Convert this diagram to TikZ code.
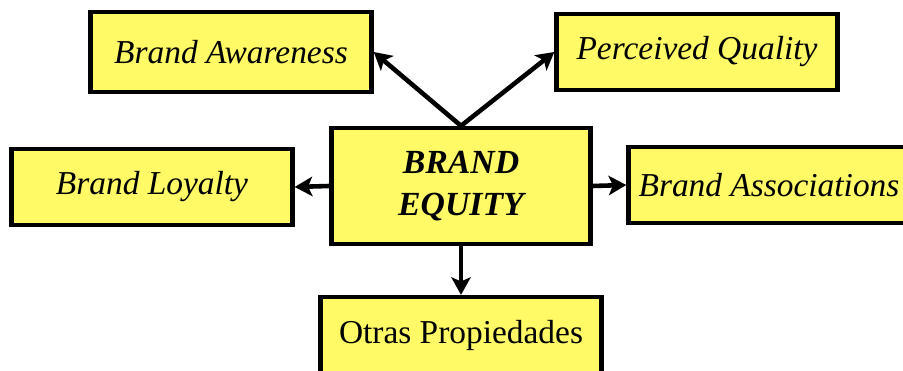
\documentclass[tikz,border=0pt]{standalone}
\usepackage{fontspec}
\setmainfont{Liberation Serif}
\usetikzlibrary{arrows.meta}
\definecolor{boxyellow}{RGB}{255,250,102}

\begin{document}
\begin{tikzpicture}[x=0.01cm,y=-0.01cm]
        \tikzstyle{box} = [draw,fill=boxyellow,line width=1.2pt,inner sep=0pt,minimum width=2.81cm,minimum height=0.76cm,font=\fontsize{9.5}{12}\selectfont\itshape]
        \tikzstyle{link} = [line width=1.3pt,-{Stealth[length=5pt,width=5.5pt,inset=1.2pt]}]

        \useasboundingbox (0,0) rectangle (903,371);

        \node[box,minimum height=0.80cm] (aware) at (231,52){Brand Awareness};
        \node[box] (quality) at (697,52){Perceived Quality};
        \node[box,minimum width=2.59cm,minimum height=1.16cm,align=center,font=\fontsize{9.6}{12}\selectfont\bfseries\itshape] (equity) at (461,186){BRAND\\EQUITY};
        \node[box] (loyalty) at (152,187){Brand Loyalty};
        \node[box] (assoc) at (769,185){Brand Associations};
        \node[box,font=\fontsize{9.5}{12}\selectfont] (other) at (461,335){Otras Propiedades};


        %\draw[link] (equity) -- (aware);
        \path[link] (equity.north) edge (aware.east) (equity.north) edge (quality.west) (equity.west) edge (loyalty.east) (equity.east) edge (assoc.west) (equity.south) edge (other.north);

    \end{tikzpicture}
\end{document}
